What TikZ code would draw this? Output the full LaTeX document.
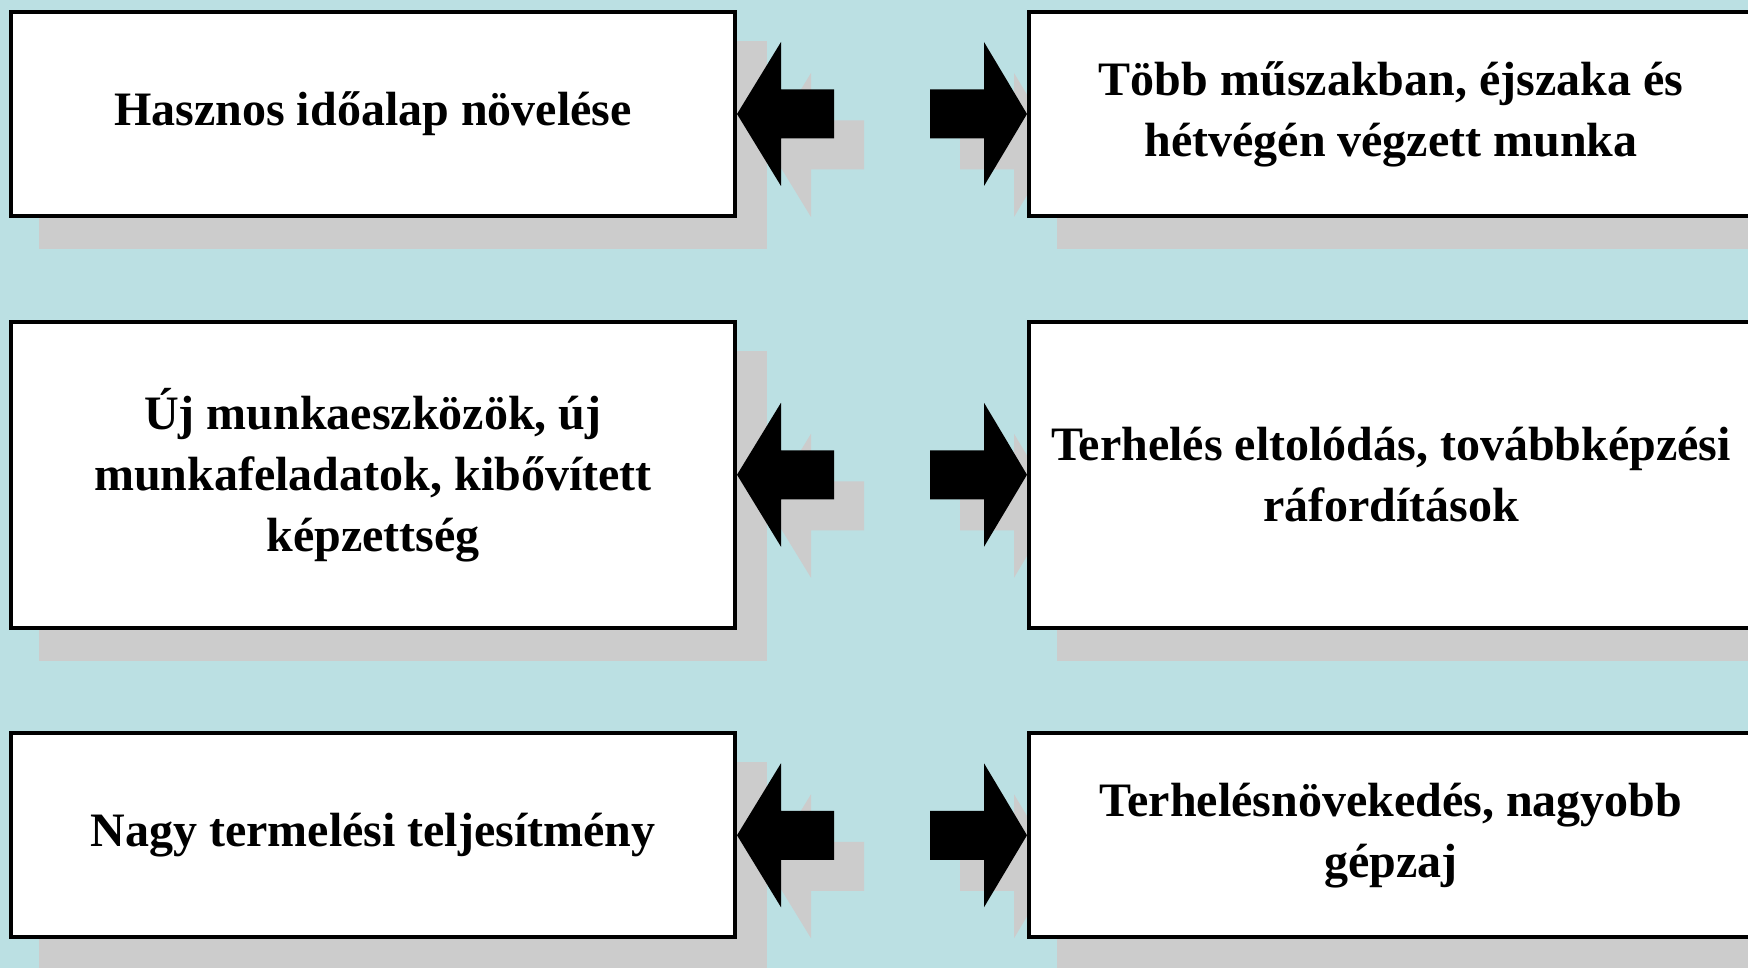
\documentclass[tikz,border=0pt]{standalone}
\usepackage{fontspec}
\setmainfont{Liberation Serif}
\usetikzlibrary{calc}
\definecolor{bgblue}{HTML}{BBE0E3}
\definecolor{shadowgray}{HTML}{CCCCCC}
\pgfdeclarelayer{bg}
\pgfsetlayers{bg,main}
\tikzset{
  box/.style={draw=black, line width=4pt, fill=white, rectangle,
    minimum width=724pt, align=center, inner sep=0pt,
    font=\fontsize{48}{61}\selectfont\bfseries},
  shortbox/.style={box, minimum height=204pt},
  tallbox/.style={box, minimum height=306.5pt},
  blockarrow/.style={fill=black},
  arrowshadow/.style={fill=shadowgray},
}
% block arrow outlines, drawn relative to the tip
\newcommand\leftblock{(0,0) -- (44,72) -- (44,24.5) -- (97,24.5) -- (97,-24.5) -- (44,-24.5) -- (44,-72) -- cycle}
\newcommand\rightblock{(0,0) -- (-43,72) -- (-43,24.5) -- (-97,24.5) -- (-97,-24.5) -- (-43,-24.5) -- (-43,-72) -- cycle}
\begin{document}
\begin{tikzpicture}[x=1pt, y=-1pt]
\useasboundingbox (0,0) rectangle (1748,968);
\clip (0,0) rectangle (1748,968);

% boxes
\node[shortbox] (L1) at (373,114) {Hasznos időalap növelése};
\node[shortbox] (R1) at (1391,114) {Több műszakban, éjszaka és\\hétvégén végzett munka};
\node[tallbox]  (L2) at (373,474.75) {Új munkaeszközök, új\\munkafeladatok, kibővített\\képzettség};
\node[tallbox]  (R2) at (1391,474.75) {Terhelés eltolódás, továbbképzési\\ráfordítások};
\node[shortbox] (L3) at (373,835.25) {Nagy termelési teljesítmény};
\node[shortbox] (R3) at (1391,835.25) {Terhelésnövekedés, nagyobb\\gépzaj};

% background and shadows
\begin{pgfonlayer}{bg}
  \fill[bgblue] (0,0) rectangle (1748,968);
  \foreach \b in {L1,R1,L2,R2,L3,R3}{
    \fill[shadowgray] ([shift={(30pt,-31pt)}]\b.south west) rectangle ([shift={(30pt,-31pt)}]\b.north east);
  }
  \foreach \r in {1,2,3}{
    \fill[arrowshadow, shift={(L\r.east)}, xshift=30pt, yshift=-31pt] \leftblock;
    \fill[arrowshadow, shift={(R\r.west)}, xshift=30pt, yshift=-31pt] \rightblock;
  }
\end{pgfonlayer}

% block arrows pointing into the boxes
\foreach \r in {1,2,3}{
  \fill[blockarrow, shift={(L\r.east)}] \leftblock;
  \fill[blockarrow, shift={(R\r.west)}] \rightblock;
}
\end{tikzpicture}
\end{document}
